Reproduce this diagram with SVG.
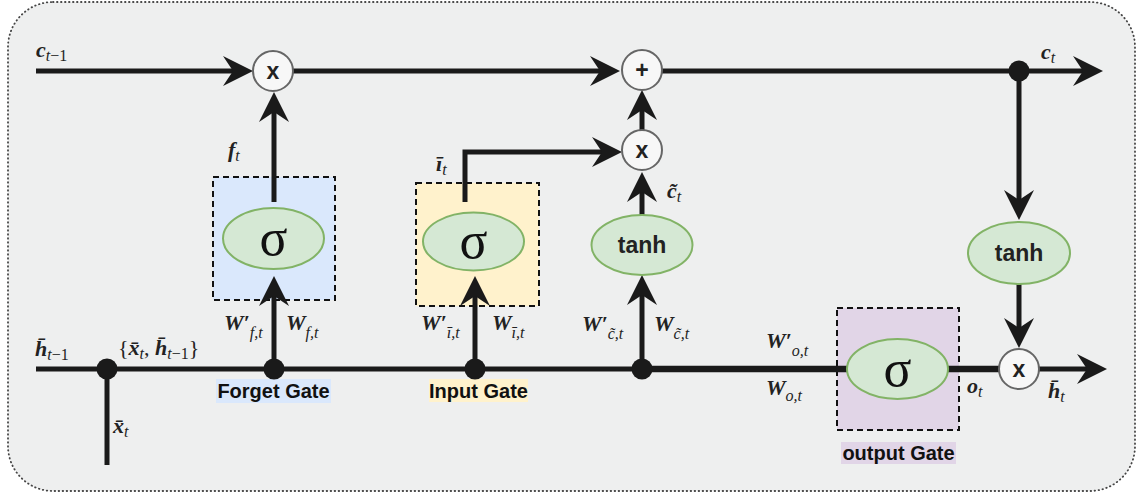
<svg xmlns="http://www.w3.org/2000/svg" width="1140" height="495" viewBox="0 0 1140 495">
<style>
.ln{stroke:#1a1a1a;stroke-width:5;fill:none}
.lnb{stroke:#1a1a1a;stroke-width:6.5;fill:none}
.dot{fill:#1a1a1a}
.op circle{fill:#f7f7f7;stroke:#666;stroke-width:2}
.op text{font-family:"Liberation Sans",Arial,sans-serif;font-weight:bold;font-size:23px;fill:#222;text-anchor:middle}
.act ellipse{fill:#d5e8d4;stroke:#82b366;stroke-width:2}
.sig{font-family:"Liberation Serif",serif;font-size:52px;fill:#111;text-anchor:middle}
.tanh{font-family:"Liberation Sans",Arial,sans-serif;font-weight:bold;font-size:23px;fill:#222;text-anchor:middle}
.gbox{stroke:#111;stroke-width:2;stroke-dasharray:6 4}
.glab{font-family:"Liberation Sans",Arial,sans-serif;font-weight:bold;font-size:20px;fill:#111;text-anchor:middle}
.m{font-family:"Liberation Serif","DejaVu Serif",serif;font-style:italic;font-weight:bold;font-size:22px;fill:#222}
.s{font-weight:normal;font-size:16px}
.r{font-style:normal}
</style>
<defs>
<marker id="ah" markerUnits="userSpaceOnUse" markerWidth="30" markerHeight="30" refX="15" refY="15" orient="auto" viewBox="0 0 30 30"><path d="M0,0 L30,15 L0,30 L10,15 Z" fill="#1a1a1a"/></marker>
</defs>
<rect id="frame" x="8" y="2" width="1127" height="489" rx="45" fill="#eeefef" stroke="#444" stroke-width="1.8" stroke-dasharray="0.5 3.5" stroke-linecap="round"/>

<g id="forget-gate">
<rect class="gbox" x="213" y="177" width="122" height="123" fill="#dae8fc"/>
<rect x="216" y="379" width="115" height="24" fill="#dae8fc"/>
<text class="glab" x="273.5" y="398">Forget Gate</text>
</g>
<g id="input-gate">
<rect class="gbox" x="416" y="183" width="123" height="123" fill="#fff2cc"/>
<rect x="429" y="379" width="99" height="23" fill="#fff2cc"/>
<text class="glab" x="478.5" y="398">Input Gate</text>
</g>
<g id="output-gate">
<rect class="gbox" x="837" y="308" width="122" height="122" fill="#e1d5e7"/>
<rect x="841" y="442" width="115" height="22" fill="#e1d5e7"/>
<text class="glab" x="898.5" y="460">output Gate</text>
</g>

<g id="connectors">
<path class="ln" d="M36,71 H238" marker-end="url(#ah)"/>
<path class="ln" d="M293,71 H605" marker-end="url(#ah)"/>
<path class="ln" d="M662,71 H1088" marker-end="url(#ah)"/>
<path class="ln" d="M1019,71 V205" marker-end="url(#ah)"/>
<path class="ln" d="M1019,284 V333" marker-end="url(#ah)"/>
<path class="ln" d="M274,202 V107" marker-end="url(#ah)"/>
<path class="ln" d="M274,369 V291" marker-end="url(#ah)"/>
<path class="ln" d="M475,369 V291" marker-end="url(#ah)"/>
<path class="ln" d="M465,202 V152 H607" marker-end="url(#ah)"/>
<path class="ln" d="M642,215 V187" marker-end="url(#ah)"/>
<path class="ln" d="M642,130 V105" marker-end="url(#ah)"/>
<path class="ln" d="M642,369 V290" marker-end="url(#ah)"/>
<path class="ln" d="M36,369 H642"/>
<path class="lnb" d="M642,369 H847"/>
<path class="lnb" d="M948,369 H999"/>
<path class="ln" d="M1039,369 H1092" marker-end="url(#ah)"/>
<path class="ln" d="M107,369 V465"/>
<circle class="dot" cx="107" cy="369" r="10.5"/>
<circle class="dot" cx="274" cy="369" r="10.5"/>
<circle class="dot" cx="475" cy="369" r="10.5"/>
<circle class="dot" cx="642" cy="369" r="10.5"/>
<circle class="dot" cx="1019" cy="71" r="10.5"/>
</g>

<g id="mul-forget" class="op"><circle cx="273" cy="71" r="20"/><text x="273" y="79">x</text></g>
<g id="add-cell" class="op"><circle cx="642" cy="70" r="20"/><text x="642" y="78">+</text></g>
<g id="mul-input" class="op"><circle cx="642" cy="150" r="20"/><text x="642" y="158">x</text></g>
<g id="mul-output" class="op"><circle cx="1019" cy="369" r="20"/><text x="1019" y="377">x</text></g>

<g id="sigma-forget" class="act"><ellipse cx="273.5" cy="238.5" rx="50.5" ry="30.5"/><text class="sig" x="273.5" y="255">σ</text></g>
<g id="sigma-input" class="act"><ellipse cx="473.5" cy="241.5" rx="50.5" ry="29"/><text class="sig" x="473.5" y="258">σ</text></g>
<g id="sigma-output" class="act"><ellipse cx="897.5" cy="369" rx="50.5" ry="30"/><text class="sig" x="897.5" y="386">σ</text></g>
<g id="tanh-cand" class="act"><ellipse cx="642" cy="245" rx="50.5" ry="30"/><text class="tanh" x="642" y="253">tanh</text></g>
<g id="tanh-out" class="act"><ellipse cx="1019" cy="253" rx="51" ry="31"/><text class="tanh" x="1019" y="261">tanh</text></g>

<g id="labels">
<text class="m" x="36" y="57">c<tspan class="s" dy="4">t</tspan><tspan class="s r">−1</tspan></text>
<text class="m" x="1041" y="59">c<tspan class="s" dy="4">t</tspan></text>
<text class="m" x="228" y="157">f<tspan class="s" dy="4">t</tspan></text>
<text class="m" x="436" y="171">ī<tspan class="s" dy="4">t</tspan></text>
<text class="m" x="667" y="198">c̃<tspan class="s" dy="4">t</tspan></text>
<text class="m" x="224" y="330">W′<tspan class="s" dy="8">f,t</tspan></text>
<text class="m" x="286" y="330">W<tspan class="s" dy="8">f,t</tspan></text>
<text class="m" x="421" y="330">W′<tspan class="s" dy="8">ī,t</tspan></text>
<text class="m" x="492" y="330">W<tspan class="s" dy="8">ī,t</tspan></text>
<text class="m" x="582" y="331">W′<tspan class="s" dy="8">c̃,t</tspan></text>
<text class="m" x="654" y="331">W<tspan class="s" dy="8">c̃,t</tspan></text>
<text class="m" x="766" y="348">W′<tspan class="s" dy="8">o,t</tspan></text>
<text class="m" x="766" y="395">W<tspan class="s" dy="6">o,t</tspan></text>
<text class="m" x="35" y="356">h̄<tspan class="s" dy="4">t</tspan><tspan class="s r">−1</tspan></text>
<text class="m" x="118" y="355"><tspan class="r" font-weight="normal">{</tspan>x̄<tspan class="s" dy="4">t</tspan><tspan class="r" font-weight="normal" dy="-4">, </tspan>h̄<tspan class="s" dy="4">t</tspan><tspan class="s r">−1</tspan><tspan class="r" font-weight="normal" dy="-4">}</tspan></text>
<text class="m" x="113" y="433">x̄<tspan class="s" dy="4">t</tspan></text>
<text class="m" x="967" y="393">o<tspan class="s" dy="4">t</tspan></text>
<text class="m" x="1048" y="398">h̄<tspan class="s" dy="4">t</tspan></text>
</g>
</svg>
